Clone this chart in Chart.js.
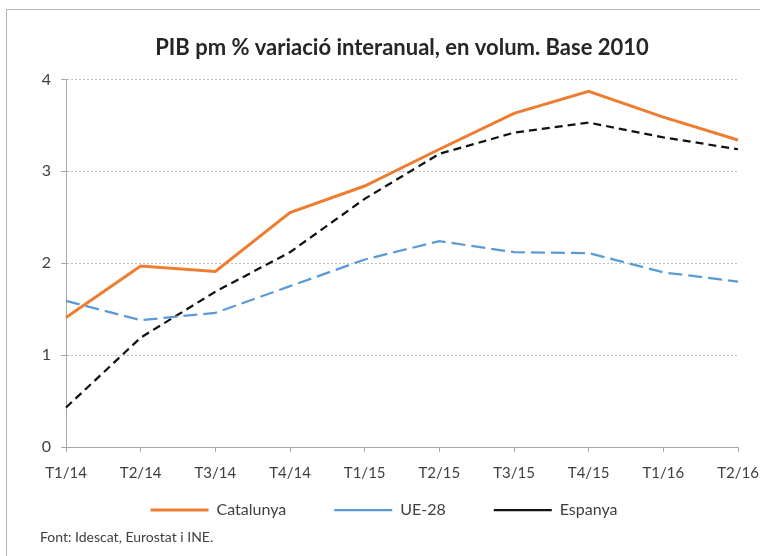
<!DOCTYPE html>
<html>
<head>
<meta charset="utf-8">
<script src="https://cdn.jsdelivr.net/npm/chart.js@4.4.1/dist/chart.umd.min.js"></script>
<style>
  html, body { margin: 0; padding: 0; background: #fff; overflow: hidden; }
  #wrap { position: relative; width: 760px; height: 556px; }
  #frame {
    position: absolute; left: 6px; top: 9px; width: 800px; height: 600px;
    border: 1.5px solid #b4b4b4; box-sizing: border-box;
  }
  canvas { position: absolute; left: 0; top: 0; }
</style>
</head>
<body>
<div id="wrap">
  <div id="frame"></div>
  <canvas id="chart" width="760" height="556"></canvas>
</div>
<script>
// Data
const quarters = ['T1/14', 'T2/14', 'T3/14', 'T4/14', 'T1/15', 'T2/15', 'T3/15', 'T4/15', 'T1/16', 'T2/16'];
const catalunya = [1.41, 1.97, 1.91, 2.55, 2.84, 3.24, 3.63, 3.87, 3.59, 3.34];
const ue28 = [1.59, 1.38, 1.46, 1.75, 2.04, 2.24, 2.12, 2.11, 1.90, 1.80];
const espanya = [0.43, 1.19, 1.69, 2.12, 2.70, 3.19, 3.42, 3.53, 3.37, 3.24];
const yTicks = [0, 1, 2, 3, 4];

const titleText = 'PIB pm % variació interanual, en volum. Base 2010';
const sourceText = 'Font: Idescat, Eurostat i INE.';

const FONT = 'Lato, "Open Sans", sans-serif';
const AXIS_GREY = '#a6a6a6';
const TEXT_GREY = '#404040';

// Legend sits closer to the axis than Chart.js would put it
const legendLift = {
  id: 'legendLift',
  afterLayout(chart) {
    const lg = chart.legend;
    if (!lg) return;
    lg.top -= 28;
    lg.bottom -= 28;
  }
};

// Footnote under the legend
const sourceNote = {
  id: 'sourceNote',
  afterDraw(chart) {
    const ctx = chart.ctx;
    ctx.save();
    ctx.font = '14px ' + FONT;
    ctx.fillStyle = TEXT_GREY;
    ctx.textBaseline = 'middle';
    ctx.fillText(sourceText, 40, 537);
    ctx.restore();
  }
};

new Chart(document.getElementById('chart'), {
  type: 'line',
  data: {
    labels: quarters,
    datasets: [
      {
        label: 'Catalunya',
        data: catalunya,
        borderColor: '#ed7d31',
        borderWidth: 3,
        pointRadius: 0,
        tension: 0
      },
      {
        label: 'UE-28',
        data: ue28,
        borderColor: '#5b9bd5',
        borderWidth: 2.25,
        borderDash: [14, 6],
        pointRadius: 0,
        tension: 0
      },
      {
        label: 'Espanya',
        data: espanya,
        borderColor: '#111111',
        borderWidth: 2.25,
        borderDash: [8, 5],
        pointRadius: 0,
        tension: 0
      }
    ]
  },
  options: {
    responsive: false,
    animation: false,
    events: [],
    layout: {
      padding: { left: 30, right: 22, top: 0, bottom: 0 }
    },
    plugins: {
      title: {
        display: true,
        text: titleText,
        fullSize: false,
        color: '#262626',
        font: { family: FONT, size: 22, weight: 'bold' },
        padding: { top: 35, bottom: 18 }
      },
      legend: {
        position: 'bottom',
        maxHeight: 77,
        labels: {
          usePointStyle: true,
          pointStyle: 'line',
          pointStyleWidth: 58,
          padding: 48,
          color: TEXT_GREY,
          font: { family: FONT, size: 16 }
        }
      },
      tooltip: { enabled: false }
    },
    scales: {
      x: {
        offset: false,
        // fixed axis band; plot right edge stays where the layout padding puts it
        afterFit: (scale) => {
          scale.paddingLeft = 0;
          scale.paddingRight = 0;
          scale.height = 35;
        },
        grid: {
          drawOnChartArea: false,
          drawTicks: true,
          tickLength: 5,
          color: AXIS_GREY
        },
        border: { display: true, color: AXIS_GREY, width: 1 },
        ticks: {
          color: TEXT_GREY,
          padding: 12,
          maxRotation: 0,
          autoSkip: false,
          font: { family: FONT, size: 15 }
        }
      },
      y: {
        min: 0,
        max: 4,
        afterFit: (scale) => { scale.width = 36; },
        afterBuildTicks: (scale) => { scale.ticks = yTicks.map(v => ({ value: v })); },
        grid: {
          color: '#bdbdbd',
          lineWidth: 1,
          tickLength: 5,
          tickColor: AXIS_GREY
        },
        border: { display: true, color: AXIS_GREY, width: 1, dash: [2, 2] },
        ticks: {
          color: TEXT_GREY,
          padding: 10,
          font: { family: FONT, size: 16 }
        }
      }
    }
  },
  plugins: [legendLift, sourceNote]
});
</script>
</body>
</html>
